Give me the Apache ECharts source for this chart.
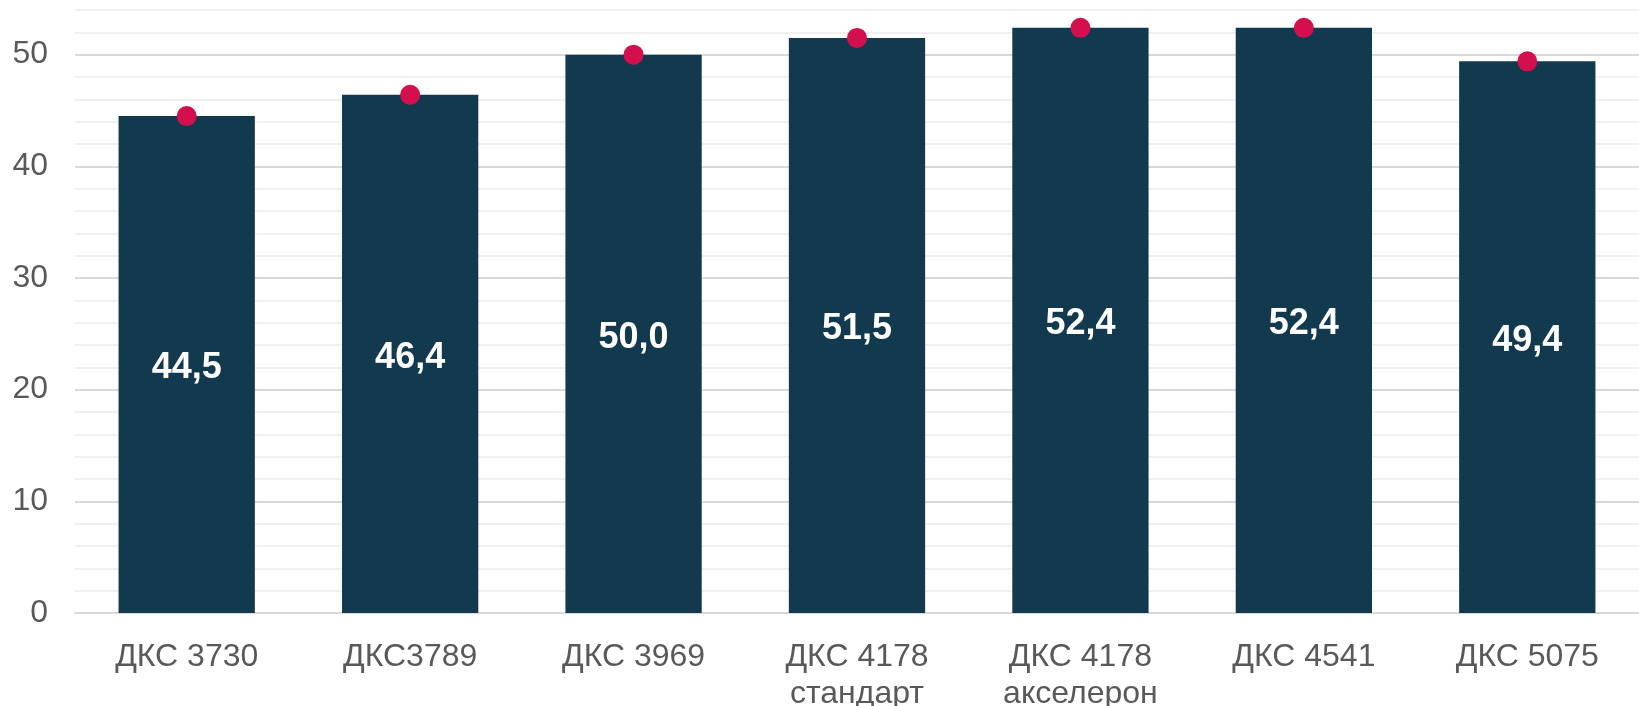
<!DOCTYPE html>
<html>
<head>
<meta charset="utf-8">
<script src="https://cdn.jsdelivr.net/npm/echarts@6/dist/echarts.min.js"></script>
<style>
html,body{margin:0;padding:0;background:#fff;}
#chart{width:1639px;height:706px;}
</style>
</head>
<body>
<div id="chart"></div>
<script>
const categories = ['ДКС 3730', 'ДКС3789', 'ДКС 3969', 'ДКС 4178\nстандарт', 'ДКС 4178\nакселерон', 'ДКС 4541', 'ДКС 5075'];
const barValues = [44.5, 46.4, 50.0, 51.5, 52.4, 52.4, 49.4];
const dotValues = [44.5, 46.4, 50.0, 51.5, 52.4, 52.4, 49.4];
const yMin = 0, yMax = 54, yStep = 2, yLabelStep = 10;

const chart = echarts.init(document.getElementById('chart'), null, {renderer: 'canvas'});
const font = '"Liberation Sans", Arial, sans-serif';
chart.setOption({
  animation: false,
  grid: {left: 75, right: 0, top: 10, bottom: 93, containLabel: false, outerBoundsMode: 'none'},
  xAxis: {
    type: 'category',
    data: categories,
    axisLine: {show: true, lineStyle: {color: '#D9D9D9', width: 2}},
    axisTick: {show: false},
    axisLabel: {color: '#595959', fontSize: 32, fontFamily: font, lineHeight: 37, margin: 26, interval: 0}
  },
  yAxis: {
    type: 'value',
    min: yMin, max: yMax, interval: yStep,
    axisLine: {show: false},
    axisTick: {show: false},
    axisLabel: {
      color: '#595959', fontSize: 32, fontFamily: font, margin: 27,
      padding: [4, 0, 0, 0],
      formatter: v => (v % yLabelStep === 0 ? String(v) : '')
    },
    splitLine: {show: true, lineStyle: {color: ['#D9D9D9', '#F0F0F0', '#F0F0F0', '#F0F0F0', '#F0F0F0'], width: 2}}
  },
  series: [
    {
      type: 'bar',
      data: barValues,
      barWidth: '61%',
      itemStyle: {color: '#13394F'},
      label: {
        show: true, position: 'inside', offset: [0, 4], color: '#fff', fontSize: 36, fontWeight: 'bold', fontFamily: font,
        formatter: p => p.value.toFixed(1).replace('.', ',')
      },
      z: 2
    },
    {
      type: 'scatter',
      data: dotValues,
      symbol: 'circle',
      symbolSize: 20,
      itemStyle: {color: '#D4104C', opacity: 1},
      z: 3
    }
  ]
});
</script>
</body>
</html>
